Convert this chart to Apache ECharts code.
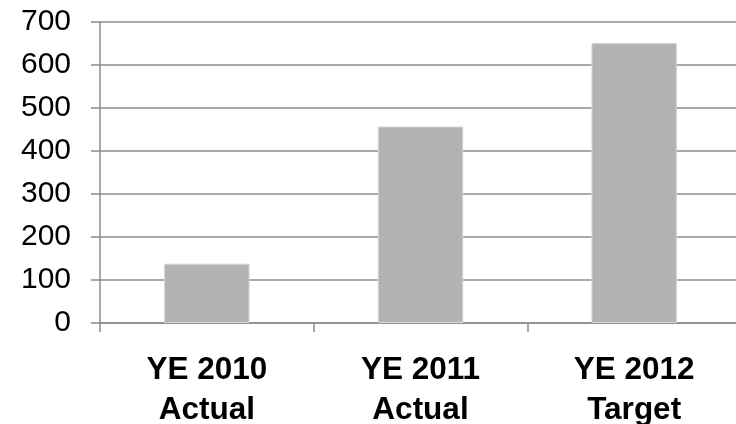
<!DOCTYPE html>
<html>
<head>
<meta charset="utf-8">
<script src="https://cdn.jsdelivr.net/npm/echarts@6/dist/echarts.min.js"></script>
<style>
	html, body { margin: 0; padding: 0; background: #fff; }
	#chart { width: 736px; height: 424px; }
</style>
</head>
<body>
<div id="chart"></div>
<script>
var categories = ['YE 2010\nActual', 'YE 2011\nActual', 'YE 2012\nTarget'];
var values = [138, 457, 651];
var yTicks = [0, 100, 200, 300, 400, 500, 600, 700];

var myChart = echarts.init(document.getElementById('chart'));
var lineColor = '#8c8c8c';

var option = {
	animation: false,
	grid: {
		left: 100,
		right: -5,
		top: 22,
		bottom: 101,
		outerBoundsMode: 'none',
		containLabel: false
	},
	xAxis: {
		type: 'category',
		data: categories,
		axisLine: { show: true, lineStyle: { color: lineColor, width: 1.5 } },
		axisTick: { show: true, length: 9, lineStyle: { color: lineColor, width: 1.5 } },
		axisLabel: {
			color: '#000',
			fontFamily: 'Liberation Sans, Arial, sans-serif',
			fontSize: 31.5,
			fontWeight: 'bold',
			lineHeight: 40,
			margin: 27
		}
	},
	yAxis: {
		type: 'value',
		min: yTicks[0],
		max: yTicks[yTicks.length - 1],
		interval: 100,
		axisLine: { show: true, lineStyle: { color: lineColor, width: 1.5 } },
		axisTick: { show: true, length: 9, lineStyle: { color: lineColor, width: 1.5 } },
		splitLine: { show: true, lineStyle: { color: lineColor, width: 1.5 } },
		axisLabel: {
			color: '#000',
			fontFamily: 'Liberation Sans, Arial, sans-serif',
			fontSize: 30,
			margin: 29
		}
	},
	series: [{
		type: 'bar',
		data: values,
		barWidth: '40%',
		itemStyle: {
			color: '#b3b3b3',
			borderColor: '#d6d6d6',
			borderWidth: 1
		}
	}]
};
myChart.setOption(option);
</script>
</body>
</html>
